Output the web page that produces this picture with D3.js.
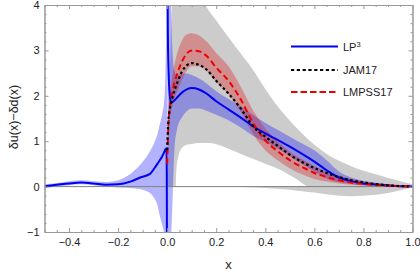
<!DOCTYPE html>
<html><head><meta charset="utf-8">
<script src="https://cdn.jsdelivr.net/npm/d3@7"></script>
<style>body{margin:0;background:#fff}svg{display:block}</style>
</head><body>
<svg id="c" width="420" height="275"></svg>
<script>
// ---- data ----
const xNeg = [-0.5,-0.45,-0.4,-0.35,-0.3,-0.25,-0.2,-0.15,-0.11,-0.07,-0.05,-0.04,-0.03,-0.02,-0.012,-0.007,-0.003,-0.0015,-0.0008];
const lpNegMid = [0.01,0.04,0.07,0.09,0.07,0.04,0.05,0.11,0.2,0.28,0.42,0.5,0.58,0.67,0.76,0.82,0.84,0.3,-1.5];
const lpNegHi  = [0.05,0.08,0.12,0.14,0.12,0.1,0.14,0.28,0.48,0.78,1.0,1.15,1.38,1.6,1.9,2.5,4.0,6,8];
const lpNegLo  = [-0.03,0.0,0.03,0.05,0.03,0.0,-0.02,-0.03,-0.06,-0.14,-0.28,-0.4,-0.65,-0.85,-1.05,-1.3,-1.5,-1.6,-1.7];

const xPos = [0.0008,0.0015,0.003,0.006,0.01,0.015,0.02,0.03,0.04,0.06,0.08,0.1,0.13,0.16,0.2,0.25,0.3,0.35,0.4,0.45,0.5,0.55,0.6,0.65,0.7,0.75,0.8,0.85,0.9,0.95,1.0];
const lpPosMid = [6,4.5,3.3,2.5,2.05,1.88,1.86,1.9,1.96,2.07,2.14,2.17,2.14,2.05,1.88,1.7,1.52,1.33,1.17,1.03,0.88,0.72,0.55,0.36,0.2,0.12,0.07,0.045,0.025,0.01,0];
const lpPosHi  = [9,8,7,6,5,4.2,3.2,2.55,2.45,2.48,2.49,2.46,2.38,2.27,2.1,1.93,1.77,1.58,1.4,1.25,1.1,0.95,0.8,0.58,0.33,0.2,0.13,0.085,0.05,0.02,0];
const lpPosLo  = [-1.8,-1.7,-1.6,-1.5,-1.4,-1.2,-0.6,0.85,1.25,1.52,1.66,1.72,1.72,1.67,1.58,1.46,1.3,1.12,0.98,0.84,0.67,0.5,0.33,0.18,0.1,0.06,0.03,0.02,0.01,0.005,0];
const jamHi = [0.9,1.0,1.3,1.8,2.5,3.3,4.1,4.6,4.8,5,5,4.8,4.3,3.96,3.66,3.29,2.93,2.57,2.15,1.77,1.45,1.17,0.92,0.72,0.57,0.45,0.35,0.27,0.19,0.12,0.05];
const jamLo = [0,0,0,0,0,0,0,0,0,0,0,0,0,0,0,0,-0.01,-0.02,-0.03,-0.05,-0.07,-0.1,-0.13,-0.17,-0.2,-0.21,-0.2,-0.18,-0.14,-0.08,-0.02];

const xHole = [0.035,0.038,0.045,0.06,0.08,0.1,0.13,0.17,0.22,0.26,0.3,0.36,0.41,0.46,0.5,0.54,0.57];
const jamHole = [0,0.4,0.65,0.85,0.92,0.94,0.96,0.96,0.9,0.81,0.72,0.59,0.48,0.37,0.25,0.12,0];

const xR = [0,0.002,0.005,0.01,0.015,0.02,0.03,0.04,0.06,0.08,0.1,0.13,0.16,0.2,0.25,0.3,0.35,0.4,0.45,0.5,0.55,0.6,0.65,0.7,0.75,0.8,0.85,0.9,0.95,1.0];
const jamMid = [0.8,1.1,1.45,1.68,1.82,1.93,2.12,2.27,2.53,2.67,2.72,2.68,2.58,2.33,2.05,1.72,1.33,1.1,0.9,0.7,0.54,0.41,0.3,0.21,0.14,0.09,0.055,0.03,0.012,0];
const lmpMid = [0.5,0.9,1.35,1.7,1.9,2.05,2.3,2.47,2.75,2.93,3.0,2.98,2.88,2.62,2.33,1.92,1.4,1.02,0.78,0.58,0.43,0.3,0.21,0.14,0.09,0.06,0.035,0.02,0.008,0];
const lmpHi  = [0.55,1.0,1.5,1.95,2.2,2.4,2.7,2.92,3.22,3.35,3.38,3.33,3.2,2.94,2.65,2.2,1.68,1.28,1.0,0.77,0.6,0.45,0.33,0.24,0.17,0.12,0.08,0.05,0.02,0];
const lmpLo  = [0.45,0.8,1.2,1.5,1.65,1.75,1.95,2.08,2.35,2.55,2.65,2.65,2.55,2.3,2.03,1.65,1.16,0.8,0.58,0.4,0.27,0.17,0.11,0.07,0.04,0.025,0.015,0.008,0.003,0];

const xMajor = [-0.4,-0.2,0,0.2,0.4,0.6,0.8,1.0];
const yMajor = [-1,0,1,2,3,4];
const legendNames = ["LP", "JAM17", "LMPSS17"];

// ---- chart ----
const svg = d3.select("#c");
const L = 44.5, R = 412.5, T = 5, B = 232;
const x = d3.scaleLinear().domain([-0.5, 1]).range([L, R]);
const y = d3.scaleLinear().domain([-1, 4]).range([B, T]);

svg.append("defs").append("clipPath").attr("id","clip")
  .append("rect").attr("x",L).attr("y",T).attr("width",R-L).attr("height",B-T);
const g = svg.append("g").attr("clip-path","url(#clip)");

const zip = (xs, ...cols) => xs.map((v,i)=>({x:v, a:cols[0][i], b:cols[1] ? cols[1][i] : 0}));
const area = d3.area().x(d=>x(d.x)).y0(d=>y(d.b)).y1(d=>y(d.a)).curve(d3.curveMonotoneX);
const line = d3.line().x(d=>x(d.x)).y(d=>y(d.a)).curve(d3.curveMonotoneX);

// JAM17 gray band (with hole)
const holeData = xHole.map((v,i)=>({x:v,a:jamHole[i],b:0}));
g.append("path")
  .attr("d", area(zip(xPos, jamHi, jamLo)) + area(holeData))
  .attr("fill", "#cccccc").attr("fill-rule","evenodd");

// LP3 blue band
g.append("path").attr("d", area(zip(xNeg, lpNegHi, lpNegLo))).attr("fill","rgba(0,0,255,0.3)");
g.append("path").attr("d", area(zip(xPos, lpPosHi, lpPosLo))).attr("fill","rgba(0,0,255,0.3)");
// LMPSS17 red band
g.append("path").attr("d", area(zip(xR, lmpHi, lmpLo))).attr("fill","rgba(220,0,0,0.3)");

// zero line
g.append("line").attr("x1",L).attr("x2",R).attr("y1",y(0)).attr("y2",y(0))
  .attr("stroke","#808080").attr("stroke-width",1);

// lines
g.append("path").attr("d", line(zip(xNeg, lpNegMid))).attr("fill","none").attr("stroke","#0000f0").attr("stroke-width",2);
g.append("path").attr("d", line(zip(xPos, lpPosMid))).attr("fill","none").attr("stroke","#0000f0").attr("stroke-width",2);
g.append("path").attr("d", line(zip(xR, lmpMid))).attr("fill","none").attr("stroke","#ee0000").attr("stroke-width",2).attr("stroke-dasharray","6,3.5");
g.append("path").attr("d", line(zip(xR, jamMid))).attr("fill","none").attr("stroke","#000").attr("stroke-width",2.2).attr("stroke-dasharray","2.6,2.6");

// frame & ticks
const frameColor = "#999";
const xMinor = d3.range(-0.5, 1.0001, 0.05).filter(v => !xMajor.some(m=>Math.abs(m-v)<1e-6));
const yMinor = d3.range(-1, 4.0001, 0.2).filter(v => !yMajor.some(m=>Math.abs(m-v)<1e-6));

function styleAxis(sel){
  sel.selectAll("path").attr("stroke",frameColor);
  sel.selectAll("line").attr("stroke",frameColor);
  sel.selectAll("text").attr("fill","#222").style("font-family","Liberation Sans, Arial, sans-serif").style("font-size","11px");
}
const ax = [
  [d3.axisBottom(x).tickValues(xMajor).tickSize(-4).tickPadding(6).tickFormat(d3.format(".1f")), `translate(0,${B})`],
  [d3.axisBottom(x).tickValues(xMinor).tickSize(-2).tickFormat(""), `translate(0,${B})`],
  [d3.axisTop(x).tickValues(xMajor).tickSize(-4).tickFormat(""), `translate(0,${T})`],
  [d3.axisTop(x).tickValues(xMinor).tickSize(-2).tickFormat(""), `translate(0,${T})`],
  [d3.axisLeft(y).tickValues(yMajor).tickSize(-4).tickPadding(5).tickFormat(d3.format("d")), `translate(${L},0)`],
  [d3.axisLeft(y).tickValues(yMinor).tickSize(-2).tickFormat(""), `translate(${L},0)`],
  [d3.axisRight(y).tickValues(yMajor).tickSize(-4).tickFormat(""), `translate(${R},0)`],
  [d3.axisRight(y).tickValues(yMinor).tickSize(-2).tickFormat(""), `translate(${R},0)`]
];
ax.forEach(([a,t]) => {
  const s = svg.append("g").attr("transform",t).call(a.tickSizeOuter(0));
  styleAxis(s);
});

// axis labels
svg.append("text").attr("x",(L+R)/2).attr("y",268.5).attr("text-anchor","middle")
  .style("font-family","Liberation Sans, Arial, sans-serif").style("font-size","13px").attr("fill","#222").text("x");
svg.append("text").attr("transform","translate(18,117) rotate(-90)").attr("text-anchor","middle")
  .style("font-family","Liberation Sans, Arial, sans-serif").style("font-size","12.5px").attr("fill","#222").text("δu(x)−δd(x)");

// legend
const leg = svg.append("g");
const legY = [46.5, 70, 92];
const legStyles = [
  {stroke:"#0000f0", w:2, dash:null},
  {stroke:"#000", w:2.2, dash:"3.2,2.6"},
  {stroke:"#ee0000", w:2, dash:"6.5,3"}
];
legendNames.forEach((n,i)=>{
  const l = leg.append("line").attr("x1",291).attr("x2",338).attr("y1",legY[i]).attr("y2",legY[i])
    .attr("stroke",legStyles[i].stroke).attr("stroke-width",legStyles[i].w);
  if (legStyles[i].dash) l.attr("stroke-dasharray",legStyles[i].dash);
  const t = leg.append("text").attr("x",343).attr("y",legY[i]+4)
    .style("font-family","Liberation Sans, Arial, sans-serif").style("font-size","11px").attr("fill","#222").text(n);
  if (i===0) t.append("tspan").attr("dy",-4).style("font-size","7.5px").text("3");
});
</script>
</body></html>
